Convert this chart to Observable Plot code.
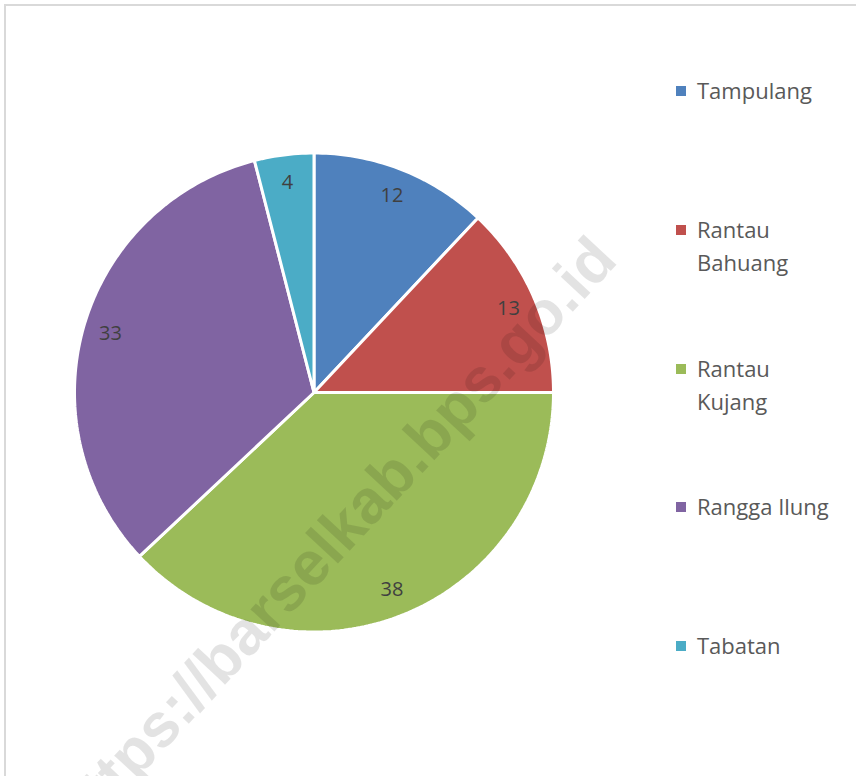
<!DOCTYPE html>
<html>
<head>
<meta charset="utf-8">
<script src="https://cdn.jsdelivr.net/npm/d3@7"></script>
<script src="https://cdn.jsdelivr.net/npm/@observablehq/plot@0.6"></script>
<style>
  html, body { margin: 0; padding: 0; background: #fff; }
  #wrap { position: relative; width: 856px; height: 776px; overflow: hidden; }
  #wrap svg { position: absolute; left: 0; top: 0; }
  #border { position: absolute; left: 4px; top: 4px; width: 1000px; height: 1000px;
            border-top: 2px solid #d9d9d9; border-left: 2px solid #d9d9d9; box-sizing: border-box; }
  #legend { position: absolute; left: 0; top: 0; font-family: "Open Sans", sans-serif;
            font-size: 22px; line-height: 33px; color: #595959; }
  .item { position: absolute; left: 676px; display: flex; align-items: flex-start; white-space: pre; }
  .sw { width: 10px; height: 10px; margin-top: 12px; margin-right: 11px; flex: none; }
  #wm { position: absolute; font-family: "Liberation Sans", Arial, sans-serif; font-weight: bold;
        font-size: 62px; line-height: 1; color: rgba(0,0,0,0.11); white-space: nowrap;
        transform: translate(-50%, -50%) rotate(-47deg); pointer-events: none; }
</style>
</head>
<body>
<div id="wrap"><div id="border"></div></div>
<script>
// ---- data ----
const names = ["Tampulang", "Rantau Bahuang", "Rantau Kujang", "Rangga Ilung", "Tabatan"];
const values = [12, 13, 38, 33, 4];
const colors = ["#4F81BD", "#C0504D", "#9BBB59", "#8064A2", "#4BACC6"];
const legendLabels = ["Tampulang", "Rantau\nBahuang", "Rantau\nKujang", "Rangga Ilung", "Tabatan"];
const watermark = "https://barselkab.bps.go.id";

// ---- layout ----
const W = 856, H = 776;
const cx = 313.5, cy = 392, R = 239.5;

const total = d3.sum(values);
let cum = 0;
const slices = names.map((name, i) => {
  const a0 = cum / total * 2 * Math.PI;
  cum += values[i];
  const a1 = cum / total * 2 * Math.PI;
  return {name, value: values[i], a0, a1, mid: (a0 + a1) / 2};
});

// polygon outline of each slice in unit-circle space (angle from 12 o'clock, clockwise)
const pts = slices.flatMap(s => {
  const steps = Math.max(2, Math.ceil((s.a1 - s.a0) / (Math.PI / 180)));
  const arr = [{name: s.name, x: 0, y: 0}];
  for (let k = 0; k <= steps; k++) {
    const a = s.a0 + (s.a1 - s.a0) * k / steps;
    arr.push({name: s.name, x: Math.sin(a), y: Math.cos(a)});
  }
  return arr;
});

const labelR = 0.885;

const chart = Plot.plot({
  width: W,
  height: H,
  style: {background: "transparent", overflow: "visible"},
  x: {domain: [-1, 1], range: [cx - R, cx + R], axis: null},
  y: {domain: [-1, 1], range: [cy + R, cy - R], axis: null},
  color: {domain: names, range: colors},
  marks: [
    Plot.line(pts, {x: "x", y: "y", z: "name", fill: "name", stroke: "white",
                    strokeWidth: 3, strokeLinejoin: "miter", curve: "linear-closed"}),
    Plot.text(slices, {
      x: d => labelR * Math.sin(d.mid),
      y: d => labelR * Math.cos(d.mid),
      text: "value",
      fill: "#404040",
      fontSize: 20,
      fontFamily: "Open Sans, sans-serif"
    })
  ]
});

const wrap = document.getElementById("wrap");
wrap.appendChild(chart);

// legend
const legend = document.createElement("div");
legend.id = "legend";
names.forEach((n, i) => {
  const it = document.createElement("div");
  it.className = "item";
  it.style.top = (74 + 138.75 * i) + "px";
  const sw = document.createElement("div");
  sw.className = "sw";
  sw.style.background = colors[i];
  const tx = document.createElement("div");
  tx.textContent = legendLabels[i];
  it.appendChild(sw);
  it.appendChild(tx);
  legend.appendChild(it);
});
wrap.appendChild(legend);

// watermark
const wm = document.createElement("div");
wm.id = "wm";
wm.textContent = watermark;
wm.style.left = "335px";
wm.style.top = "536px";
wrap.appendChild(wm);
</script>
</body>
</html>
